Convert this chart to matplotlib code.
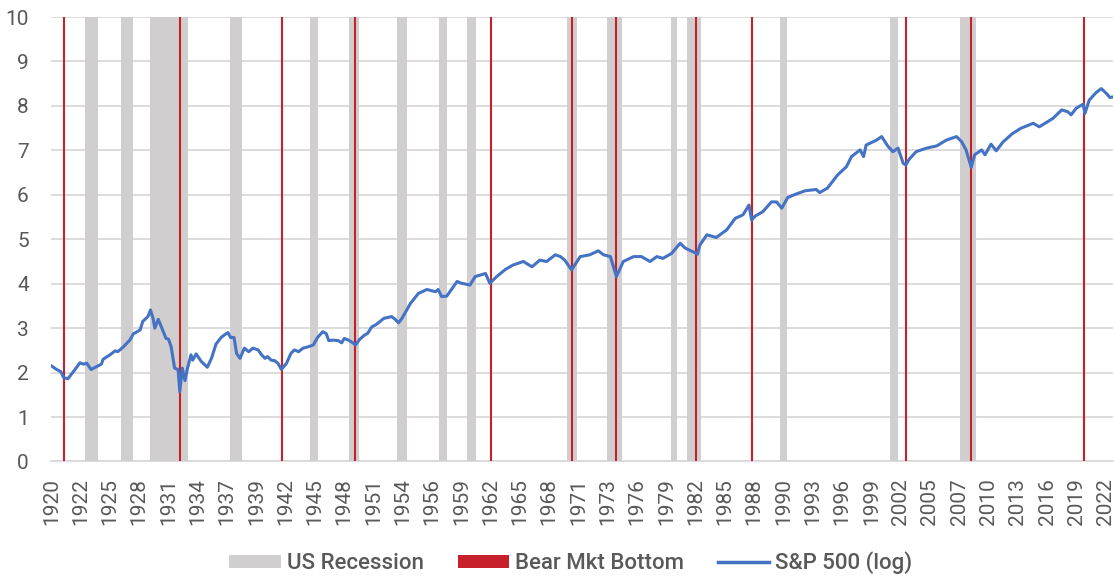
import matplotlib
matplotlib.use("Agg")
import matplotlib.pyplot as plt
from matplotlib.patches import Patch
from matplotlib.lines import Line2D

# S&P 500, natural log of monthly level
sp_dates = [
    "1920-01", "1920-07", "1920-12", "1921-03", "1921-08", "1922-04", "1922-10", "1923-02",
    "1923-06", "1923-11", "1924-05", "1924-11", "1925-01", "1925-09", "1926-03", "1926-06",
    "1926-12", "1927-08", "1927-12", "1928-08", "1928-11", "1929-05", "1929-08", "1929-11",
    "1930-01", "1930-05", "1930-10", "1931-02", "1931-05", "1931-08", "1931-12", "1932-04",
    "1932-06", "1932-09", "1932-12", "1933-03", "1933-07", "1933-09", "1934-01", "1934-07",
    "1935-02", "1935-07", "1935-10", "1935-12", "1936-06", "1936-10", "1937-02", "1937-05",
    "1937-09", "1937-12", "1938-04", "1938-09", "1939-02", "1939-07", "1940-01", "1940-05",
    "1940-09", "1940-12", "1941-04", "1941-08", "1941-12", "1942-04", "1942-10", "1943-03",
    "1943-07", "1943-12", "1944-05", "1944-11", "1945-05", "1945-10", "1946-04", "1946-08",
    "1946-11", "1947-04", "1947-10", "1948-02", "1948-05", "1948-10", "1949-03", "1949-06",
    "1949-11", "1950-05", "1950-08", "1951-01", "1951-06", "1952-03", "1952-12", "1953-04",
    "1953-08", "1953-12", "1954-10", "1955-07", "1956-05", "1957-03", "1957-06", "1957-10",
    "1958-04", "1959-04", "1959-09", "1960-07", "1961-01", "1962-01", "1962-06", "1963-02",
    "1963-12", "1964-09", "1965-09", "1966-07", "1967-04", "1967-12", "1968-10", "1969-04",
    "1969-09", "1970-05", "1971-03", "1972-02", "1972-12", "1973-06", "1974-02", "1974-09",
    "1975-05", "1976-05", "1977-02", "1977-12", "1978-08", "1979-03", "1980-01", "1980-11",
    "1981-05", "1982-04", "1982-07", "1982-10", "1983-06", "1984-05", "1985-05", "1986-03",
    "1986-12", "1987-07", "1987-10", "1988-02", "1988-11", "1989-09", "1990-03", "1990-09",
    "1991-04", "1992-02", "1992-12", "1994-01", "1994-05", "1995-02", "1996-02", "1996-12",
    "1997-06", "1998-04", "1998-08", "1998-11", "1999-11", "2000-05", "2000-12", "2001-06",
    "2001-12", "2002-06", "2002-09", "2003-01", "2003-09", "2004-09", "2005-09", "2006-08",
    "2007-08", "2008-02", "2008-07", "2009-01", "2009-05", "2010-01", "2010-05", "2010-12",
    "2011-06", "2012-02", "2013-01", "2013-11", "2015-01", "2015-08", "2016-12", "2017-10",
    "2018-05", "2018-09", "2019-03", "2019-11", "2020-01", "2020-06", "2021-02", "2021-08",
    "2022-02", "2022-06", "2022-09",
]
sp_log = [
    2.15, 2.07, 2.02, 1.89, 1.86, 2.06, 2.22, 2.19,
    2.21, 2.07, 2.13, 2.19, 2.30, 2.40, 2.49, 2.47,
    2.57, 2.73, 2.87, 2.96, 3.15, 3.26, 3.41, 3.22,
    3.00, 3.20, 2.96, 2.77, 2.75, 2.58, 2.10, 2.07,
    1.57, 2.10, 1.82, 2.10, 2.40, 2.28, 2.42, 2.25,
    2.12, 2.33, 2.52, 2.64, 2.79, 2.85, 2.90, 2.79,
    2.79, 2.43, 2.32, 2.55, 2.47, 2.55, 2.51, 2.40,
    2.32, 2.36, 2.28, 2.27, 2.21, 2.07, 2.21, 2.43,
    2.51, 2.47, 2.55, 2.58, 2.62, 2.79, 2.92, 2.88,
    2.72, 2.73, 2.72, 2.67, 2.77, 2.73, 2.67, 2.62,
    2.75, 2.85, 2.88, 3.03, 3.08, 3.22, 3.26, 3.20,
    3.12, 3.22, 3.56, 3.78, 3.87, 3.82, 3.87, 3.71,
    3.72, 4.05, 4.01, 3.97, 4.16, 4.23, 4.01, 4.16,
    4.32, 4.42, 4.50, 4.38, 4.53, 4.50, 4.65, 4.61,
    4.53, 4.31, 4.61, 4.65, 4.74, 4.65, 4.61, 4.16,
    4.50, 4.61, 4.61, 4.50, 4.61, 4.57, 4.68, 4.91,
    4.80, 4.70, 4.66, 4.87, 5.10, 5.04, 5.21, 5.47,
    5.55, 5.77, 5.43, 5.52, 5.62, 5.84, 5.84, 5.70,
    5.94, 6.02, 6.09, 6.12, 6.05, 6.15, 6.45, 6.63,
    6.86, 7.01, 6.86, 7.12, 7.23, 7.31, 7.10, 6.97,
    7.05, 6.71, 6.67, 6.80, 6.97, 7.05, 7.10, 7.23,
    7.31, 7.19, 7.01, 6.62, 6.90, 7.01, 6.90, 7.14,
    6.99, 7.19, 7.38, 7.50, 7.61, 7.53, 7.72, 7.91,
    7.87, 7.80, 7.95, 8.04, 7.83, 8.13, 8.30, 8.39,
    8.28, 8.19, 8.20,
]

# NBER recessions shown as grey bands (start, end month)
rec_start = ["1923-05", "1926-10", "1929-08", "1937-05", "1945-02", "1948-11", "1953-07",
             "1957-08", "1960-04", "1969-12", "1973-11", "1980-01", "1981-07", "1990-07",
             "2001-03", "2007-12"]
rec_end = ["1924-07", "1927-11", "1933-03", "1938-06", "1945-10", "1949-10", "1954-05",
           "1958-04", "1961-02", "1970-11", "1975-03", "1980-07", "1982-11", "1991-03",
           "2001-11", "2009-06"]

# bear market bottoms (red lines)
bear_bottoms = ["1921-03", "1932-06", "1942-05", "1949-06", "1962-07", "1970-05", "1974-09",
                "1982-06", "1987-10", "2002-09", "2009-01", "2019-12"]

tick_years = ["1920", "1922", "1925", "1928", "1931", "1934", "1937", "1939", "1942", "1945",
              "1948", "1951", "1954", "1956", "1959", "1962", "1965", "1968", "1971", "1973",
              "1976", "1979", "1982", "1985", "1988", "1990", "1993", "1996", "1999", "2002",
              "2005", "2007", "2010", "2013", "2016", "2019", "2022"]

n_months = 1233  # Jan 1920 .. Sep 2022


def midx(s):
    y, m = s.split("-")
    return (int(y) - 1920) * 12 + int(m) - 1


grey = "#D0CECE"
red = "#C8202A"
blue = "#4472C4"
txt = "#595959"
grid = "#D9D9D9"

plt.rcParams["font.family"] = ["Roboto", "DejaVu Sans"]

fig = plt.figure(figsize=(11.14, 5.77), dpi=100)
ax = fig.add_axes([0.0458, 0.2002, 0.9532, 0.7703])

for s, e in zip(rec_start, rec_end):
    ax.axvspan(midx(s) - 0.5, midx(e) + 0.5, color=grey, lw=0, zorder=1)

for b in bear_bottoms:
    ax.axvline(midx(b), color=red, lw=1.5, zorder=2)

ax.plot([midx(d) for d in sp_dates], sp_log, color=blue, lw=2.2, zorder=3,
        solid_joinstyle="round")

ax.set_xlim(-0.5, n_months - 0.5)
ax.set_ylim(0, 10)
ax.set_yticks(range(0, 11))
ax.set_xticks([i * 34 for i in range(len(tick_years))])
ax.set_xticklabels(tick_years, rotation=90)
ax.tick_params(axis="y", length=0, pad=16, labelsize=15, labelcolor=txt)
ax.tick_params(axis="x", length=0, pad=12, labelsize=15, labelcolor=txt)
ax.grid(axis="y", color=grid, lw=1.3, zorder=0)
ax.set_axisbelow(True)
for sp in ["top", "right", "left"]:
    ax.spines[sp].set_visible(False)
ax.spines["bottom"].set_color(grid)
ax.spines["bottom"].set_linewidth(1.3)
ax.spines["bottom"].set_zorder(0.5)

handles = [
    Patch(facecolor=grey, edgecolor="none", label="US Recession"),
    Patch(facecolor=red, edgecolor="none", label="Bear Mkt Bottom"),
    Line2D([], [], color=blue, lw=2.5, label="S&P 500 (log)"),
]
leg = fig.legend(handles=handles, loc="center", bbox_to_anchor=(571 / 1114, 1 - 563 / 577),
                 ncol=3, frameon=False, prop={"size": 16, "weight": "medium"},
                 handlelength=2.3, handleheight=0.55, handletextpad=0.3, columnspacing=1.5)
for t in leg.get_texts():
    t.set_color(txt)

fig.savefig("out.png", dpi=100)
